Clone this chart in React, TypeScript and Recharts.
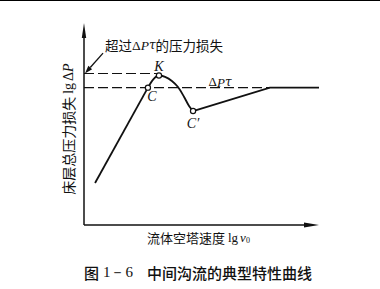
import React from "react";
import {
  ComposedChart,
  Line,
  XAxis,
  YAxis,
  ReferenceLine,
  ReferenceDot,
} from "recharts";

// lg v0 (x) against lg ΔP (y)
const riseV = [0.47, 2.72];
const riseP = [2.08, 6.8];
const humpV = [2.72, 2.94, 3.19, 3.45, 3.74, 4.0, 4.26, 4.47, 4.64];
const humpP = [6.8, 7.2, 7.4, 7.33, 7.13, 6.83, 6.34, 5.89, 5.64];
const tailV = [4.64, 7.91, 10];
const tailP = [5.64, 6.8, 6.8];

// dashed levels
const tauLevel = 6.8;
const tauDashEnd = 7.91;
const peakLevel = 7.5;
const peakDashEnd = 3.1;

// marked points C, K, C'
const markNames = ["C", "K", "C′"];
const markV = [2.72, 3.19, 4.64];
const markP = [6.8, 7.4, 5.64];

// annotation arrow "超过ΔPτ的压力损失" and text anchors
const noteFrom = { x: 0.81, y: 8.51 };
const noteTo = { x: 0.04, y: 7.5 };
const tauLabelAt = { x: 5.79, y: 7.08 };
const xTitleAt = { x: 4.87, y: -0.6 };
const captionAt = { x: 4.85, y: -2.33 };
const yTitleAt = { x: -0.68, y: 4.75 };

const toRows = (vs: number[], ps: number[]) =>
  vs.map((v, i) => ({ v, p: ps[i] }));

const cjk = '"Noto Sans CJK SC", sans-serif';
const serif = '"Liberation Serif", "DejaVu Serif", serif';
const ink = "#111";

const markOffsets: Record<string, [number, number]> = {
  C: [4, 9],
  K: [0, -9],
  "C′": [0, 12],
};

const arrowShape = (len: number, half: number, width: number) => (props: any) => {
  const { x1, y1, x2, y2 } = props;
  const a = Math.atan2(y2 - y1, x2 - x1);
  const bx = x2 - len * Math.cos(a);
  const by = y2 - len * Math.sin(a);
  const nx = -Math.sin(a) * half;
  const ny = Math.cos(a) * half;
  return (
    <g>
      <line x1={x1} y1={y1} x2={bx} y2={by} stroke={ink} strokeWidth={width} />
      <polygon
        points={`${x2},${y2} ${bx + nx},${by + ny} ${bx - nx},${by - ny}`}
        fill={ink}
      />
    </g>
  );
};

const xTitle = (props: any) => (
  <text
    x={props.cx}
    y={props.cy}
    textAnchor="middle"
    dominantBaseline="central"
    fill={ink}
    fontSize={13}
    fontFamily={cjk}
  >
    流体空塔速度
    <tspan fontFamily={serif} dx={3}>lg</tspan>
    <tspan fontFamily={serif} fontStyle="italic" dx={2}>v</tspan>
    <tspan fontFamily={serif} fontSize={8} dy={3}>0</tspan>
  </text>
);

const caption = (props: any) => (
  <text
    x={props.cx}
    y={props.cy}
    textAnchor="middle"
    dominantBaseline="central"
    fill={ink}
    fontSize={15}
    fontWeight={500}
    fontFamily={cjk}
  >
    图
    <tspan fontFamily={serif} dx={4}>1－6</tspan>
    <tspan dx={14}>中间沟流的典型特性曲线</tspan>
  </text>
);

const yTitle = (props: any) => (
  <text
    x={props.cx}
    y={props.cy}
    transform={`rotate(-90, ${props.cx}, ${props.cy})`}
    textAnchor="middle"
    dominantBaseline="central"
    fill={ink}
    fontSize={14}
    fontFamily={cjk}
  >
    床层总压力损失
    <tspan fontFamily={serif} dx={3}>lg</tspan>
    <tspan fontFamily={serif} dx={2}>Δ</tspan>
    <tspan fontFamily={serif} fontStyle="italic">P</tspan>
  </text>
);

const circleShape = (props: any) => (
  <circle cx={props.cx} cy={props.cy} r={2.6} fill="#fff" stroke={ink} strokeWidth={1.2} />
);

const markLabel = (name: string) => (props: any) => {
  const [dx, dy] = markOffsets[name];
  return (
    <text
      x={props.cx + dx}
      y={props.cy + dy}
      textAnchor="middle"
      dominantBaseline="central"
      fill={ink}
      fontSize={14}
      fontStyle="italic"
      fontFamily={serif}
    >
      {name}
    </text>
  );
};

const tauLabel = (props: any) => (
  <text
    x={props.cx}
    y={props.cy}
    textAnchor="middle"
    dominantBaseline="central"
    fill={ink}
    fontSize={13}
    fontFamily={serif}
  >
    Δ<tspan fontStyle="italic">P</tspan>
    <tspan fontStyle="italic" fontFamily='"DejaVu Serif", serif' fontSize={12}>τ</tspan>
  </text>
);

const noteLabel = (props: any) => (
  <text
    x={props.cx + 2}
    y={props.cy - 8}
    textAnchor="start"
    dominantBaseline="central"
    fill={ink}
    fontSize={13.5}
    fontFamily={cjk}
  >
    超过
    <tspan fontFamily={serif}>Δ</tspan>
    <tspan fontFamily={serif} fontStyle="italic">P</tspan>
    <tspan fontFamily='"DejaVu Serif", serif' fontStyle="italic" fontSize={12}>τ</tspan>
    的压力损失
  </text>
);

const App = () => {
  return (
    <div
      style={{
        position: "absolute",
        left: 0,
        top: 0,
        width: 380,
        height: 289,
        background: "#fff",
      }}
    >
      <div
        style={{ position: "absolute", left: 0, top: 0, width: 380, height: 1, background: "#000" }}
      />
      <ComposedChart
        width={380}
        height={289}
        margin={{ top: 23, right: 61, bottom: 64, left: 84 }}
      >
        <XAxis
          type="number"
          dataKey="v"
          domain={[0, 10]}
          tick={false}
          tickLine={false}
          axisLine={false}
          height={0}
        />
        <YAxis
          type="number"
          dataKey="p"
          domain={[0, 10]}
          tick={false}
          tickLine={false}
          axisLine={false}
          width={0}
        />

        <ReferenceLine
          segment={[{ x: 0, y: tauLevel }, { x: tauDashEnd, y: tauLevel }]}
          stroke={ink}
          strokeWidth={1.2}
          strokeDasharray="10 4"
        />
        <ReferenceLine
          segment={[{ x: 0, y: peakLevel }, { x: peakDashEnd, y: peakLevel }]}
          stroke={ink}
          strokeWidth={1.2}
          strokeDasharray="10 4"
        />

        <ReferenceLine
          segment={[{ x: 0, y: 0 }, { x: 10, y: 0 }]}
          shape={arrowShape(15, 2.5, 1.5)}
        />
        <ReferenceLine
          segment={[{ x: 0, y: 0 }, { x: 0, y: 10 }]}
          shape={arrowShape(15, 2.2, 1.5)}
        />
        <ReferenceLine
          segment={[noteFrom, noteTo]}
          shape={arrowShape(8, 2.5, 1.3)}
        />

        <Line
          data={toRows(riseV, riseP)}
          dataKey="p"
          type="linear"
          stroke={ink}
          strokeWidth={1.8}
          dot={false}
          isAnimationActive={false}
        />
        <Line
          data={toRows(humpV, humpP)}
          dataKey="p"
          type="monotone"
          stroke={ink}
          strokeWidth={1.8}
          dot={false}
          isAnimationActive={false}
        />
        <Line
          data={toRows(tailV, tailP)}
          dataKey="p"
          type="linear"
          stroke={ink}
          strokeWidth={1.8}
          dot={false}
          isAnimationActive={false}
        />

        {markNames.map((name, i) => (
          <ReferenceDot
            key={name}
            x={markV[i]}
            y={markP[i]}
            ifOverflow="visible"
            shape={circleShape}
          />
        ))}
        {markNames.map((name, i) => (
          <ReferenceDot
            key={`lbl-${name}`}
            x={markV[i]}
            y={markP[i]}
            ifOverflow="visible"
            shape={markLabel(name)}
          />
        ))}
        <ReferenceDot x={tauLabelAt.x} y={tauLabelAt.y} ifOverflow="visible" shape={tauLabel} />
        <ReferenceDot x={noteFrom.x} y={noteFrom.y} ifOverflow="visible" shape={noteLabel} />
        <ReferenceDot x={xTitleAt.x} y={xTitleAt.y} ifOverflow="visible" shape={xTitle} />
        <ReferenceDot x={captionAt.x} y={captionAt.y} ifOverflow="visible" shape={caption} />
        <ReferenceDot x={yTitleAt.x} y={yTitleAt.y} ifOverflow="visible" shape={yTitle} />
      </ComposedChart>
    </div>
  );
};

export default App;
